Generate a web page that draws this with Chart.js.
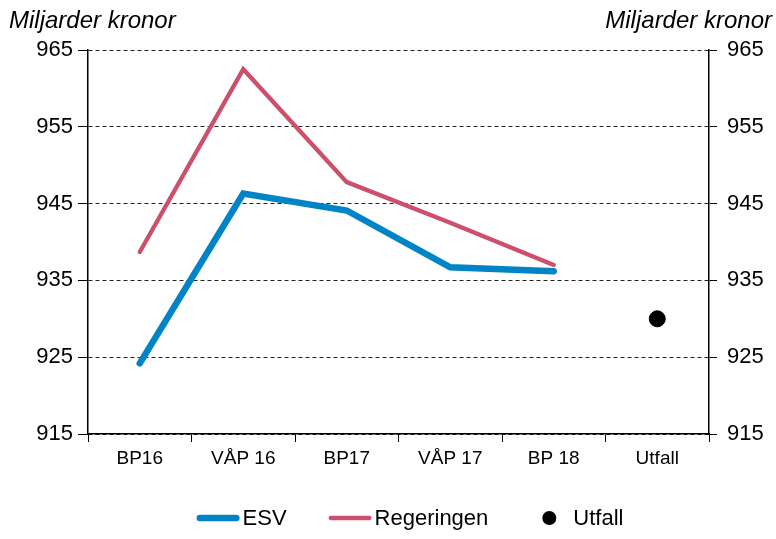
<!DOCTYPE html>
<html>
<head>
<meta charset="utf-8">
<script src="https://cdn.jsdelivr.net/npm/chart.js@4.4.1/dist/chart.umd.min.js"></script>
<style>
  body { margin: 0; background: #fff; }
  #wrap { width: 776px; height: 539px; }
</style>
</head>
<body>
<div id="wrap"><canvas id="myChart" width="776" height="539"></canvas></div>
<script>
const categories = ['BP16', 'VÅP 16', 'BP17', 'VÅP 17', 'BP 18', 'Utfall']
const esv = [924.2, 946.3, 944.1, 936.7, 936.2, null]
const regeringen = [938.7, 962.5, 947.8, 942.5, 937.0, null]
const utfall = [null, null, null, null, null, 930]
const yTicks = [915, 925, 935, 945, 955, 965]

const FONT = 'Liberation Sans, Arial, sans-serif'
const blue = '#0084c6'
const red = '#cc4f6b'

// "Miljarder kronor" above both axes
const unitLabels = {
  id: 'unitLabels',
  afterDraw(chart) {
    const c = chart.ctx
    c.save()
    c.fillStyle = '#000'
    c.font = 'italic 24px ' + FONT
    c.textBaseline = 'middle'
    c.textAlign = 'left'
    c.fillText('Miljarder kronor', 9, 21)
    c.textAlign = 'right'
    c.fillText('Miljarder kronor', 772, 21)
    c.restore()
  }
}

// legend row under the chart: lines for the two series, a dot for Utfall
const bottomLegend = {
  id: 'bottomLegend',
  afterDraw(chart) {
    const c = chart.ctx
    const sets = chart.data.datasets
    const y = 518
    const gap = 42
    c.save()
    c.font = '22px ' + FONT
    c.textBaseline = 'middle'
    const items = sets.map(ds => {
      const marker = ds.showLine === false ? 43 : 46
      return { ds, marker, w: marker + c.measureText(ds.label).width }
    })
    let total = items.reduce((s, it) => s + it.w, 0) + gap * (items.length - 1)
    let x = (chart.width - total) / 2 + 22
    items.forEach(it => {
      const ds = it.ds
      if (ds.showLine === false) {
        c.fillStyle = ds.pointBackgroundColor
        c.beginPath()
        c.arc(x + 19, y, 7, 0, Math.PI * 2)
        c.fill()
      } else {
        c.strokeStyle = ds.borderColor
        c.lineWidth = ds.borderWidth
        c.lineCap = 'round'
        c.beginPath()
        c.moveTo(x + ds.borderWidth / 2, y)
        c.lineTo(x + 43 - ds.borderWidth / 2, y)
        c.stroke()
      }
      c.fillStyle = '#000'
      c.fillText(ds.label, x + it.marker, y + 1)
      x += it.w + gap
    })
    c.restore()
  }
}

const ctx = document.getElementById('myChart')
const myChart = new Chart(ctx, {
  type: 'line',
  data: {
    labels: categories,
    datasets: [{
      label: 'ESV',
      data: esv,
      borderColor: blue,
      borderWidth: 6.5,
      borderCapStyle: 'round',
      pointRadius: 0,
      yAxisID: 'y'
    }, {
      label: 'Regeringen',
      data: regeringen,
      borderColor: red,
      borderWidth: 4.3,
      borderCapStyle: 'round',
      pointRadius: 0,
      yAxisID: 'y'
    }, {
      label: 'Utfall',
      data: utfall,
      showLine: false,
      pointRadius: 8,
      pointBackgroundColor: '#000',
      pointBorderColor: '#000',
      yAxisID: 'y'
    }]
  },
  options: {
    responsive: false,
    animation: false,
    layout: { padding: { top: 50, left: 0, right: 0, bottom: 65 } },
    plugins: {
      tooltip: { enabled: false },
      legend: { display: false }
    },
    scales: {
      x: {
        offset: true,
        afterFit(s) { s.height = 40 },
        grid: { offset: true, drawOnChartArea: false, color: '#000', tickLength: 8 },
        border: { color: '#000', width: 1.5 },
        ticks: { color: '#000', font: { family: FONT, size: 19 }, padding: 5, maxRotation: 0 }
      },
      y: {
        position: 'left',
        min: 915,
        max: 965,
        afterBuildTicks(s) { s.ticks = yTicks.map(v => ({ value: v })) },
        afterFit(s) { s.width = 88 },
        grid: { color: '#222', lineWidth: 1, tickColor: '#000', tickLength: 10 },
        border: { color: '#000', width: 1.5, dash: [4, 3] },
        ticks: { color: '#000', font: { family: FONT, size: 22 }, padding: 5 }
      },
      y2: {
        position: 'right',
        min: 915,
        max: 965,
        afterBuildTicks(s) { s.ticks = yTicks.map(v => ({ value: v })) },
        afterFit(s) { s.width = 67 },
        grid: { drawOnChartArea: false, color: '#000', tickLength: 8 },
        border: { color: '#000', width: 1.5 },
        ticks: { color: '#000', font: { family: FONT, size: 22 }, padding: 10 }
      }
    }
  },
  plugins: [unitLabels, bottomLegend]
})
</script>
</body>
</html>
